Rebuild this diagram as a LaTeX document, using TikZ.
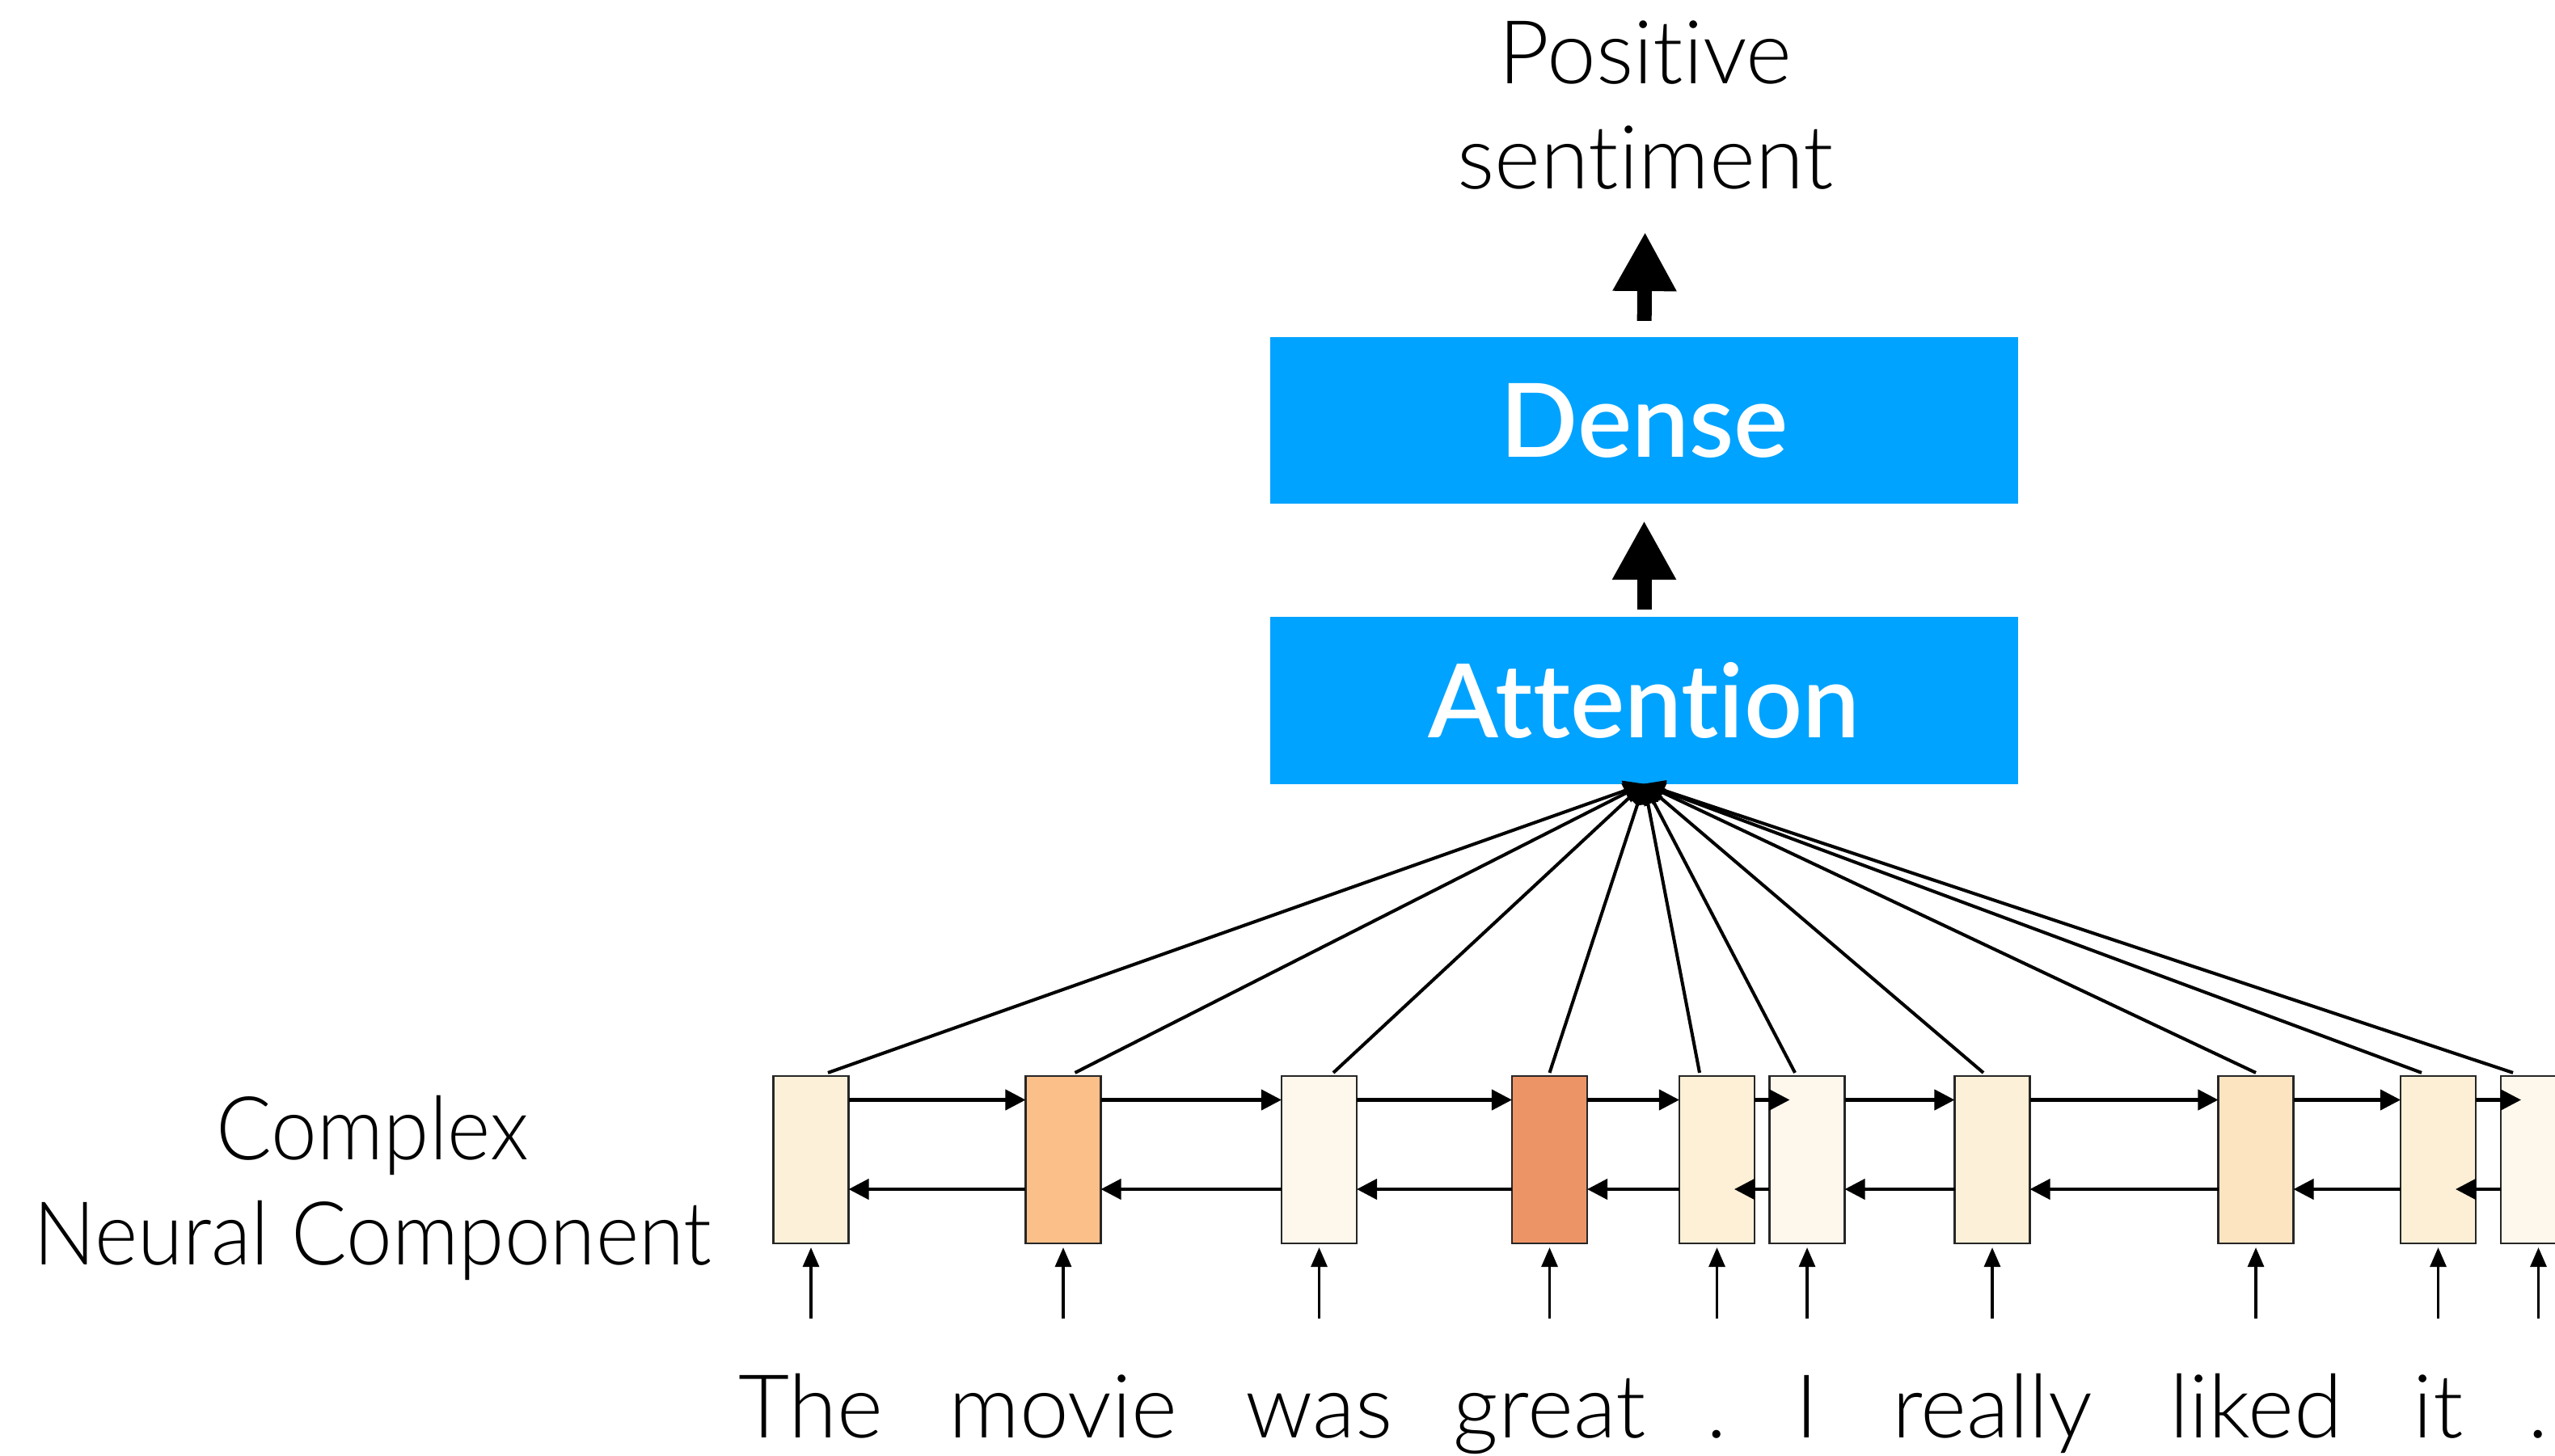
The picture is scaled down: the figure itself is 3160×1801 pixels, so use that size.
\documentclass[tikz,border=0pt]{standalone}
\usepackage{fontspec}
\setmainfont{Lato}[UprightFont=* Light, BoldFont=* Semibold, Ligatures=NoCommon]
\usetikzlibrary{arrows.meta,calc}

\definecolor{layerblue}{RGB}{0,163,255}
\definecolor{h1}{RGB}{253,240,216}
\definecolor{h2}{RGB}{251,192,137}
\definecolor{h3}{RGB}{254,247,235}
\definecolor{h4}{RGB}{237,148,103}
\definecolor{h5}{RGB}{253,240,215}
\definecolor{h6}{RGB}{254,248,236}
\definecolor{h7}{RGB}{253,240,216}
\definecolor{h8}{RGB}{253,228,192}
\definecolor{h9}{RGB}{253,239,214}
\definecolor{h10}{RGB}{254,247,235}

\begin{document}
\begin{tikzpicture}[
  x=0.01cm, y=-0.01cm,
  cell/.style={draw=black!85, line width=0.7pt, minimum width=0.93cm,
    minimum height=2.07cm, inner sep=0pt, outer sep=0pt},
  layer/.style={fill=layerblue, minimum width=9.25cm, minimum height=2.06cm,
    inner sep=0pt, outer sep=0pt, text=white,
    font=\bfseries\fontsize{36}{40}\selectfont},
  word/.style={font=\fontsize{31}{37}\selectfont, inner sep=0pt, anchor=base,
    text height=0.8cm, text depth=0.2cm},
  caption/.style={font=\fontsize{31}{37}\selectfont, inner sep=0pt, align=center},
  fwd/.style={line width=1.2pt, -{Triangle[length=0.25cm,width=0.25cm]}},
  inarrow/.style={line width=0.9pt, -{Triangle[length=0.24cm,width=0.2cm]}},
  attn/.style={line width=1.15pt, -{Triangle[length=0.25cm,width=0.25cm]}},
  big/.style={line width=0.18cm, -{Triangle[length=0.73cm,width=0.74cm]}}
]
\useasboundingbox (0,0) rectangle (3160,1801);

% layers
\node[layer] (dense) at (2033.5,520) {Dense};
\node[layer] (att) at (2033.5,866.5) {Attention};

% output label
\node[caption, anchor=south] (out) at (2035,235)
  {\baselineskip=38.4pt Positive\\sentiment};

% left label
\node[caption, anchor=north, font=\fontsize{31}{37}\selectfont\addfontfeature{FakeStretch=0.935}]
  (cnc) at (461,1354)
  {\baselineskip=37pt Complex\\Neural Component};

% recurrent cells
\foreach \i/\x in {1/1003, 2/1315, 3/1631.5, 4/1916.5, 5/2123.5,
                   6/2235, 7/2464, 8/2790, 9/3015.5, 10/3139.5}
  \node[cell, fill=h\i] (b\i) at (\x,1434.5) {};

% input words
\foreach \i/\w in {1/The, 2/movie, 3/was, 4/great, 5/., 6/I,
                   7/really, 8/liked, 9/it, 10/.}
{
  \node[word] (w\i) at (b\i.center |- 0,1778) {\w};
  \draw[inarrow, shorten <=0.66cm, shorten >=0.05cm] (w\i.north) -- (b\i.south);
}

% forward direction
\foreach \a/\b in {1/2, 2/3, 3/4, 4/5, 6/7, 7/8, 8/9}
  \draw[fwd] ($(b\a.east)+(0,-74)$) -- ($(b\b.west)+(0,-74)$);
\foreach \a/\b in {5/6, 9/10}
  \draw[fwd, shorten >=-0.25cm] ($(b\a.east)+(0,-74)$) -- ($(b\b.west)+(0,-74)$);

% backward direction
\foreach \a/\b in {2/1, 3/2, 4/3, 5/4, 7/6, 8/7, 9/8}
  \draw[fwd] ($(b\a.west)+(0,36.5)$) -- ($(b\b.east)+(0,36.5)$);
\foreach \a/\b in {6/5, 10/9}
  \draw[fwd, shorten >=-0.25cm] ($(b\a.west)+(0,36.5)$) -- ($(b\b.east)+(0,36.5)$);

% attention inputs
\foreach \i/\d in {1/21, 2/14.5, 3/17.5, 4/0, 5/-21.5, 6/-15, 7/-11,
                   8/0, 9/-20.5, 10/-31.5}
  \draw[attn] ($(b\i.north)+(\d,-4)$) -- (att.south);

% stacking arrows
\draw[big, shorten <=0.09cm, shorten >=0.21cm] (att.north) -- (dense.south);
\draw[big, shorten <=0.2cm, shorten >=0.52cm] (dense.north) -- (out.south);
\end{tikzpicture}
\end{document}
